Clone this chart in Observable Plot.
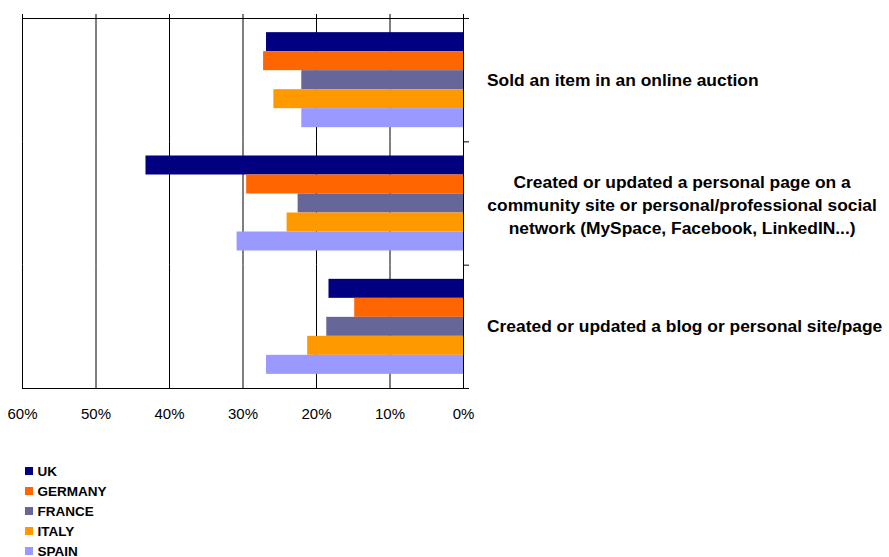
<!DOCTYPE html>
<html>
<head>
<meta charset="utf-8">
<script src="https://cdn.jsdelivr.net/npm/d3@7"></script>
<script src="https://cdn.jsdelivr.net/npm/@observablehq/plot@0.6"></script>
<style>
  html, body { margin: 0; padding: 0; background: #fff; }
  body { width: 889px; height: 557px; overflow: hidden; font-family: "Liberation Sans", Arial, sans-serif; }
  #chart svg { display: block; }
  #legend { margin-top: 31px; margin-left: 25px; }
  .row { display: flex; align-items: center; height: 20px; font-size: 13.5px; font-weight: bold; color: #000; }
  .sw { width: 8px; height: 8px; margin-right: 4.5px; }
</style>
</head>
<body>
<div id="chart"></div>
<div id="legend"></div>
<script>
const categories = [
  "Sold an item in an online auction",
  "Created or updated a personal page on a community site or personal/professional social network (MySpace, Facebook, LinkedIN...)",
  "Created or updated a blog or personal site/page"
];
const categoryLabels = [
  "Sold an item in an online auction",
  "Created or updated a personal page on a\ncommunity site or personal/professional social\nnetwork (MySpace, Facebook, LinkedIN...)",
  "Created or updated a blog or personal site/page"
];
const countries = ["UK", "GERMANY", "FRANCE", "ITALY", "SPAIN"];
const colors = ["#000080", "#FF6600", "#666699", "#FF9900", "#9999FF"];
const ukValues      = [0.268, 0.432, 0.183];
const germanyValues = [0.272, 0.295, 0.148];
const franceValues  = [0.220, 0.225, 0.186];
const italyValues   = [0.258, 0.240, 0.212];
const spainValues   = [0.220, 0.308, 0.268];
const xTicks = [0, 0.1, 0.2, 0.3, 0.4, 0.5, 0.6];

const series = [ukValues, germanyValues, franceValues, italyValues, spainValues];
const data = [];
categories.forEach((cat, i) => {
  countries.forEach((c, j) => data.push({cat, country: c, value: series[j][i]}));
});
const labelData = categories.map((cat, i) => ({cat, label: categoryLabels[i], centered: categoryLabels[i].includes("\n")}));

const font = "'Liberation Sans', Arial, sans-serif";
const plotWidth = 889 - 22 - 426;

const chart = Plot.plot({
  width: 889,
  height: 430,
  marginTop: 18,
  marginLeft: 22,
  marginRight: 426,
  marginBottom: 42,
  style: {fontFamily: font, background: "#fff", overflow: "visible"},
  x: {domain: [0, 0.6], reverse: true},
  y: {domain: countries, paddingInner: 0, paddingOuter: 0.745, round: false, axis: null},
  fy: {domain: categories, padding: 0, round: false, axis: null},
  color: {domain: countries, range: colors},
  marks: [
    Plot.ruleX(xTicks, {stroke: "#000", strokeWidth: 1}),
    Plot.barX(data, {x: "value", y: "country", fy: "cat", fill: "country"}),
    Plot.ruleX([0], {stroke: "#000", strokeWidth: 1}),
    Plot.frame({anchor: "top", stroke: "#000", insetLeft: plotWidth, insetRight: -5}),
    Plot.frame({anchor: "top", stroke: "#000", insetRight: -5, fy: () => categories[0]}),
    Plot.frame({anchor: "bottom", stroke: "#000", insetRight: -5, fy: () => categories[categories.length - 1]}),
    Plot.axisX({anchor: "top", ticks: xTicks, tickSize: 5, tickFormat: () => "", label: null, stroke: "#000"}),
    Plot.axisX({anchor: "bottom", ticks: xTicks, tickSize: 0, tickPadding: 20, tickFormat: d3.format(".0%"), label: null, fontSize: 15, fill: "#000"}),
    Plot.text(labelData.filter(d => !d.centered), {fy: "cat", text: "label", frameAnchor: "right", textAnchor: "start", dx: 23.5, fontSize: 17.4, fontWeight: "bold", fill: "#000"}),
    Plot.text(labelData.filter(d => d.centered), {fy: "cat", text: "label", frameAnchor: "right", textAnchor: "middle", dx: 218.6, fontSize: 17.4, fontWeight: "bold", lineHeight: 1.32, fill: "#000"})
  ]
});
document.getElementById("chart").appendChild(chart);

const legend = document.getElementById("legend");
countries.forEach((c, j) => {
  const row = document.createElement("div");
  row.className = "row";
  const sw = document.createElement("span");
  sw.className = "sw";
  sw.style.background = colors[j];
  const t = document.createElement("span");
  t.textContent = c;
  row.appendChild(sw);
  row.appendChild(t);
  legend.appendChild(row);
});
</script>
</body>
</html>
